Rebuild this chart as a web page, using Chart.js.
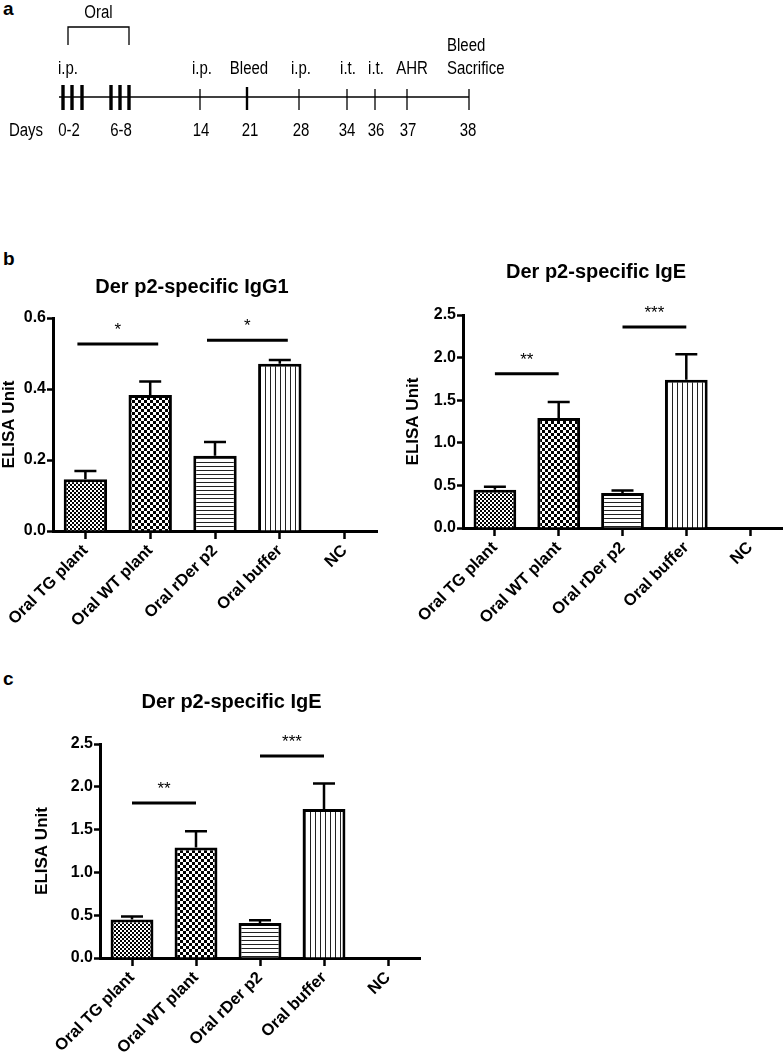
<!DOCTYPE html>
<html>
<head>
<meta charset="utf-8">
<script src="https://cdn.jsdelivr.net/npm/chart.js@4.4.1/dist/chart.umd.min.js"></script>
<style>
  body { margin: 0; background: #fff; width: 784px; height: 1052px; position: relative; overflow: hidden; font-family: 'Liberation Sans', Arial, sans-serif; }
  .panel { position: absolute; }
  .tag { position: absolute; font-weight: bold; font-size: 19px; line-height: 19px; }
</style>
</head>
<body>
<div class="tag" style="left:3px;top:-1px">a</div>
<div class="tag" style="left:3px;top:249px">b</div>
<div class="tag" style="left:3px;top:669px">c</div>

<canvas class="panel" id="timeline" width="784" height="180" style="left:0;top:0"></canvas>
<canvas class="panel" id="chartIgG1" width="392" height="450" style="left:0;top:190px"></canvas>
<canvas class="panel" id="chartIgE" width="392" height="450" style="left:392px;top:190px"></canvas>
<canvas class="panel" id="chartIgE2" width="440" height="412" style="left:0;top:640px"></canvas>

<script>
Chart.defaults.font.family = "'Liberation Sans', Arial, sans-serif";
Chart.defaults.color = '#000';

// data
const categories = ['Oral TG plant', 'Oral WT plant', 'Oral rDer p2', 'Oral buffer', 'NC'];
const igg1Mean = [0.146, 0.383, 0.212, 0.471, 0];
const igg1Err = [0.023, 0.038, 0.039, 0.011, 0];
const igeMean = [0.45, 1.29, 0.41, 1.74, 0];
const igeErr = [0.035, 0.19, 0.03, 0.30, 0];
const igg1Ticks = [0, 0.2, 0.4, 0.6];
const igeTicks = [0, 0.5, 1.0, 1.5, 2.0, 2.5];
const sigPairs = [[0, 1], [2, 3]];
const igg1SigY = [0.527, 0.537];
const igg1Stars = ['*', '*'];
const igeSigY = [1.81, 2.36];
const igeStars = ['**', '***'];

const timelineDays = ['0-2', '6-8', '14', '21', '28', '34', '36', '37', '38'];
const timelineEvents = ['i.p.', '', 'i.p.', 'Bleed', 'i.p.', 'i.t.', 'i.t.', 'AHR', 'Bleed\nSacrifice'];
const oralLabel = 'Oral';

// schematic layout of the timeline (not to scale in the original)
const TL = {
  lineY: 97, x0: 59, x1: 469,
  markX: [[63, 72, 82], [111, 120, 129], [200], [247], [299], [347], [375], [407], [469]],
  markW: [3.4, 3.4, 1.3, 2.4, 1.3, 1.3, 1.3, 1.3, 1.3],
  dayX: [69, 121, 201, 250, 301, 347, 376, 408, 468],
  eventX: [68, 0, 202, 249, 301, 348, 376, 412, 447]
};

function pattern(kind) {
  const c = document.createElement('canvas');
  const g = c.getContext('2d');
  if (kind === 'fineCheck' || kind === 'check') {
    const s = kind === 'fineCheck' ? 2 : 3;
    c.width = c.height = s * 2;
    g.fillStyle = '#fff'; g.fillRect(0, 0, s * 2, s * 2);
    g.fillStyle = '#000'; g.fillRect(0, 0, s, s); g.fillRect(s, s, s, s);
  } else if (kind === 'hlines') {
    c.width = 4; c.height = 4;
    g.fillStyle = '#fff'; g.fillRect(0, 0, 4, 4);
    g.fillStyle = '#222'; g.fillRect(0, 0, 4, 1);
  } else {
    c.width = 5; c.height = 5;
    g.fillStyle = '#fff'; g.fillRect(0, 0, 5, 5);
    g.fillStyle = '#222'; g.fillRect(0, 0, 1, 5);
  }
  return g.createPattern(c, 'repeat');
}
const fills = [pattern('fineCheck'), pattern('check'), pattern('hlines'), pattern('vlines'), '#fff'];

const errorBars = {
  id: 'errorBars',
  afterDatasetsDraw(chart, args, o) {
    const { ctx } = chart;
    const x = chart.scales.x, y = chart.scales.y;
    const meta = chart.getDatasetMeta(0);
    ctx.save();
    ctx.strokeStyle = '#000';
    ctx.lineWidth = 2.5;
    o.err.forEach((e, i) => {
      if (!e) return;
      const bar = meta.data[i];
      const top = y.getPixelForValue(o.mean[i] + e);
      ctx.beginPath();
      ctx.moveTo(bar.x, bar.y);
      ctx.lineTo(bar.x, top);
      ctx.moveTo(bar.x - 11, top);
      ctx.lineTo(bar.x + 11, top);
      ctx.stroke();
    });
    ctx.lineWidth = 3;
    ctx.fillStyle = '#000';
    ctx.font = "17px 'Liberation Sans', Arial, sans-serif";
    ctx.textAlign = 'center';
    ctx.textBaseline = 'alphabetic';
    sigPairs.forEach((p, k) => {
      const xa = x.getPixelForValue(p[0]) - o.overhang;
      const xb = x.getPixelForValue(p[1]) + o.overhang;
      const yy = y.getPixelForValue(o.sigY[k]);
      ctx.beginPath();
      ctx.moveTo(xa, yy);
      ctx.lineTo(xb, yy);
      ctx.stroke();
      ctx.fillText(o.stars[k], (xa + xb) / 2, yy - 9);
    });
    ctx.restore();
  }
};

function barChart(id, c) {
  return new Chart(document.getElementById(id), {
    type: 'bar',
    data: {
      labels: categories,
      datasets: [{
        data: c.mean,
        backgroundColor: fills,
        borderColor: '#000',
        borderWidth: 3,
        barPercentage: 0.67,
        categoryPercentage: 1
      }]
    },
    options: {
      responsive: false,
      animation: false,
      layout: { padding: c.pad },
      plugins: {
        legend: { display: false },
        tooltip: { enabled: false },
        title: {
          display: true, text: c.title, color: '#000',
          font: { size: 20, weight: 'bold' },
          padding: { top: 0, bottom: c.titleGap }
        },
        errorBars: { mean: c.mean, err: c.err, sigY: c.sigY, stars: c.stars, overhang: c.overhang }
      },
      scales: {
        x: {
          grid: { offset: false, drawOnChartArea: false, tickLength: 8, tickWidth: 2.5, tickColor: '#000' },
          border: { color: '#000', width: 3 },
          ticks: { color: '#000', font: { size: 16.5, weight: 'bold' }, minRotation: 45, maxRotation: 45, autoSkip: false, padding: 2 },
          afterFit(s) { s.height = c.xHeight; }
        },
        y: {
          min: 0,
          max: c.ticks[c.ticks.length - 1],
          afterBuildTicks(s) { s.ticks = c.ticks.map(v => ({ value: v })); },
          grid: { drawOnChartArea: false, tickLength: 6, tickWidth: 2.5, tickColor: '#000' },
          border: { color: '#000', width: 3 },
          ticks: { color: '#000', font: { size: 16, weight: 'bold' }, padding: 1, callback: v => Number(v).toFixed(1) },
          title: { display: true, text: 'ELISA Unit', color: '#000', font: { size: 17, weight: 'bold' }, padding: { top: c.yTitleOffset, bottom: 0 } },
          afterFit(s) { s.width = c.yWidth; }
        }
      }
    },
    plugins: [errorBars]
  });
}

barChart('chartIgG1', {
  title: 'Der p2-specific IgG1', mean: igg1Mean, err: igg1Err, ticks: igg1Ticks,
  sigY: igg1SigY, stars: igg1Stars, overhang: 8,
  pad: { top: 85, left: 7, right: 15, bottom: 0 }, titleGap: 19,
  yWidth: 46, xHeight: 109, yTitleOffset: -8
});

barChart('chartIgE', {
  title: 'Der p2-specific IgE', mean: igeMean, err: igeErr, ticks: igeTicks,
  sigY: igeSigY, stars: igeStars, overhang: 0,
  pad: { top: 70, left: 18, right: 2, bottom: 0 }, titleGap: 31,
  yWidth: 53, xHeight: 112, yTitleOffset: -6.5
});

barChart('chartIgE2', {
  title: 'Der p2-specific IgE', mean: igeMean, err: igeErr, ticks: igeTicks,
  sigY: igeSigY, stars: igeStars, overhang: 0,
  pad: { top: 50, left: 43, right: 20, bottom: 0 }, titleGap: 30,
  yWidth: 57, xHeight: 94, yTitleOffset: -10.5
});

// timeline panel
const timelinePlugin = {
  id: 'timelineDraw',
  afterDraw(chart) {
    const ctx = chart.ctx;
    ctx.save();
    ctx.strokeStyle = '#000';
    ctx.fillStyle = '#000';
    ctx.font = "18px 'Liberation Sans Narrow'";
    const narrow = ctx.measureText('Sacrifice').width < 62;
    ctx.font = narrow ? "18px 'Liberation Sans Narrow'" : "15px 'Liberation Sans', Arial";
    const sy = narrow ? 1 : 1.2; // the original lettering is tall and narrow

    function text(s, x, y, align) {
      ctx.save();
      ctx.textAlign = align || 'center';
      ctx.textBaseline = 'alphabetic';
      ctx.scale(1, sy);
      ctx.fillText(s, x, y / sy);
      ctx.restore();
    }

    ctx.lineWidth = 1.4;
    ctx.beginPath();
    ctx.moveTo(TL.x0, TL.lineY);
    ctx.lineTo(TL.x1, TL.lineY);
    ctx.stroke();

    timelineDays.forEach((d, i) => {
      const w = TL.markW[i];
      ctx.lineWidth = w;
      TL.markX[i].forEach(mx => {
        ctx.beginPath();
        ctx.moveTo(mx, w > 3 ? 85 : (w > 2 ? 87 : 89));
        ctx.lineTo(mx, 110);
        ctx.stroke();
      });
      text(d, TL.dayX[i], 136);
      const ev = timelineEvents[i];
      if (ev.includes('\n')) {
        const lines = ev.split('\n');
        text(lines[0], TL.eventX[i], 51, 'left');
        text(lines[1], TL.eventX[i], 74, 'left');
      } else if (ev) {
        text(ev, TL.eventX[i], 74);
      }
    });
    text('Days', 26, 136);

    // oral bracket over the two oral dosing blocks
    const bx0 = TL.markX[0][0] + 5, bx1 = TL.markX[1][2];
    ctx.lineWidth = 1.3;
    ctx.beginPath();
    ctx.moveTo(bx0, 45);
    ctx.lineTo(bx0, 27);
    ctx.lineTo(bx1, 27);
    ctx.lineTo(bx1, 45);
    ctx.stroke();
    text(oralLabel, (bx0 + bx1) / 2, 18);
    ctx.restore();
  }
};

new Chart(document.getElementById('timeline'), {
  type: 'scatter',
  data: { datasets: [] },
  options: {
    responsive: false,
    animation: false,
    plugins: { legend: { display: false }, tooltip: { enabled: false } },
    scales: { x: { display: false }, y: { display: false } }
  },
  plugins: [timelinePlugin]
});
</script>
</body>
</html>
